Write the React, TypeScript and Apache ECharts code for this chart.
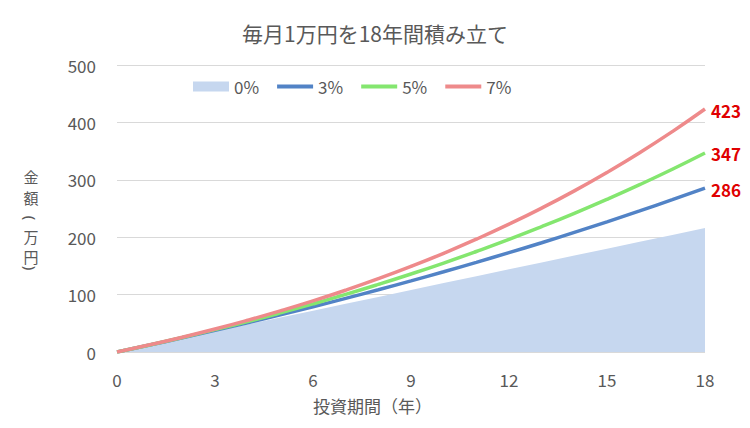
import React, { useEffect, useRef } from "react";
import * as echarts from "echarts";

const years = [0, 1, 2, 3, 4, 5, 6, 7, 8, 9, 10, 11, 12, 13, 14, 15, 16, 17, 18];
const rate0 = [0, 12, 24, 36, 48, 60, 72, 84, 96, 108, 120, 132, 144, 156, 168, 180, 192, 204, 216];
const rate3 = [0, 12.2, 24.8, 37.7, 51.0, 64.7, 78.9, 93.4, 108.4, 123.9, 139.8, 156.2, 173.1, 190.4, 208.4, 226.8, 245.8, 265.4, 285.5];
const rate5 = [0, 12.3, 25.3, 38.9, 53.1, 68.1, 83.8, 100.3, 117.7, 135.9, 155.0, 175.1, 196.1, 218.3, 241.5, 265.9, 291.5, 318.4, 346.7];
const rate7 = [0, 12.5, 25.8, 40.0, 55.3, 71.6, 89.0, 107.7, 127.7, 149.1, 172.0, 196.5, 222.7, 250.7, 280.7, 312.9, 347.2, 384.0, 423.3];
const seriesNames = ["0%", "3%", "5%", "7%"];
const titleText = "毎月1万円を18年間積み立て";
const xName = "投資期間（年）";
// vertical y-axis name: [char, centre y, rotated?]
const yNameParts: [string, number, boolean][] = [
  ["金", 176, false],
  ["額", 197, false],
  ["(", 218, true],
  ["万", 236, false],
  ["円", 256, false],
  [")", 268, true],
];

const FONT = "'Noto Sans CJK JP', 'Noto Sans', sans-serif";
const GRAY = "#595959";

export default function App() {
  const ref = useRef<HTMLDivElement>(null);
  useEffect(() => {
    if (!ref.current) return;
    const chart = echarts.init(ref.current, undefined, { renderer: "svg" });
    const pairs = (arr: number[]) => years.map((y, i) => [y, arr[i]]);
    const lineSeries = (name: string, arr: number[], color: string) => ({
      name,
      type: "line",
      data: pairs(arr),
      symbol: "none",
      showSymbol: false,
      smooth: true,
      lineStyle: { color, width: 3.5 },
      itemStyle: { color },
      endLabel: {
        show: true,
        formatter: (p: any) => String(Math.round(p.value[1])),
        color: "#e00000",
        fontWeight: "bold",
        fontSize: 17,
        fontFamily: FONT,
        distance: 6,
        offset: [0, 1],
      },
      z: 3,
    });
    chart.setOption({
      animation: false,
      textStyle: { fontFamily: FONT },
      title: {
        text: titleText,
        left: "center",
        top: 17,
        textStyle: { fontFamily: FONT, fontSize: 21, fontWeight: "normal", color: GRAY },
      },
      legend: {
        left: 188,
        top: 73,
        itemWidth: 36,
        itemHeight: 10,
        itemGap: 16,
        lineStyle: { width: 4 },
        textStyle: { fontFamily: FONT, fontSize: 17, color: GRAY },
        data: [
          { name: seriesNames[0], icon: "rect", itemStyle: { color: "#c6d7ef" } },
          { name: seriesNames[1], itemStyle: { opacity: 0 } },
          { name: seriesNames[2], itemStyle: { opacity: 0 } },
          { name: seriesNames[3], itemStyle: { opacity: 0 } },
        ],
      },
      grid: { left: 117, right: 45, top: 65, bottom: 76 },
      xAxis: {
        type: "value",
        min: 0,
        max: 18,
        interval: 3,
        axisLine: { show: false },
        axisTick: { show: false },
        splitLine: { show: false },
        axisLabel: { color: GRAY, fontSize: 17, margin: 19, fontFamily: FONT },
      },
      yAxis: {
        type: "value",
        min: 0,
        max: 500,
        interval: 100,
        axisLine: { show: false },
        axisTick: { show: false },
        splitLine: { lineStyle: { color: "#d9d9d9", width: 1 } },
        axisLabel: { color: GRAY, fontSize: 17, margin: 21, fontFamily: FONT },
      },
      graphic: [
        {
          type: "text",
          left: 313,
          top: 397,
          style: { text: xName, fill: GRAY, font: `17px ${FONT}` },
        },
        ...yNameParts.map(([c, cy, rot]) => ({
          type: "text",
          x: 31,
          y: cy,
          rotation: rot ? -Math.PI / 2 : 0,
          style: {
            text: c,
            fill: GRAY,
            align: "center",
            verticalAlign: "middle",
            font: rot ? `15px 'Noto Sans', sans-serif` : `15px ${FONT}`,
          },
        })),
      ],
      series: [
        {
          name: seriesNames[0],
          type: "line",
          data: pairs(rate0),
          symbol: "none",
          showSymbol: false,
          lineStyle: { width: 0, color: "#c6d7ef" },
          itemStyle: { color: "#c6d7ef" },
          areaStyle: { color: "#c6d7ef", opacity: 1 },
          z: 1,
        },
        lineSeries(seriesNames[1], rate3, "#5283c6"),
        lineSeries(seriesNames[2], rate5, "#84e66f"),
        lineSeries(seriesNames[3], rate7, "#ee8a8b"),
      ],
    });
    return () => chart.dispose();
  }, []);
  return <div ref={ref} style={{ width: 750, height: 428, position: "absolute", left: 0, top: 0 }} />;
}
